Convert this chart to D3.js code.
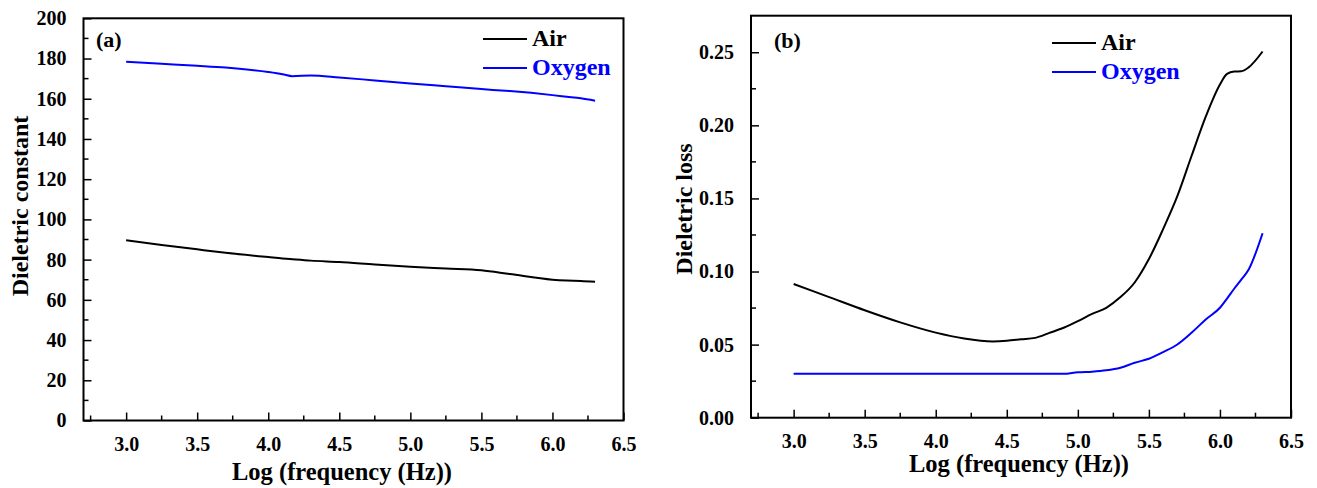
<!DOCTYPE html>
<html>
<head>
<meta charset="utf-8">
<script src="https://cdn.jsdelivr.net/npm/d3@7"></script>
<style>
  body { margin: 0; background: #fff; }
  text { font-family: "Liberation Serif", "Times New Roman", serif; font-weight: bold; }
</style>
</head>
<body>
<svg id="chart" width="1317" height="488"></svg>
<script>
// panel (a): dielectric constant
var freqA = [3.0, 3.25, 3.5, 3.7, 4.0, 4.1, 4.17, 4.3, 4.5, 4.75, 5.0, 5.25, 5.5, 5.7, 6.0, 6.1, 6.2, 6.3];
var airConst = [89.6, 87.3, 85.1, 83.4, 81.3, 80.6, 80.2, 79.5, 78.8, 77.6, 76.5, 75.6, 74.7, 72.8, 70.0, 69.6, 69.4, 69.0];
var oxyConst = [178.4, 177.4, 176.4, 175.5, 173.3, 172.2, 171.2, 171.6, 170.6, 169.1, 167.6, 166.2, 164.8, 163.8, 161.8, 161.0, 160.2, 159.0];

// panel (b): dielectric loss
var freqB = [3.0, 3.25, 3.5, 3.75, 4.0, 4.2, 4.4, 4.5, 4.6, 4.7, 4.8, 4.9, 5.0, 5.1, 5.2, 5.3, 5.4, 5.5, 5.6, 5.7, 5.8, 5.9, 6.0, 6.05, 6.1, 6.15, 6.2, 6.3];
var airLoss = [0.0915, 0.0825, 0.0735, 0.0652, 0.0582, 0.0542, 0.0522, 0.0526, 0.0536, 0.0546, 0.0580, 0.0615, 0.0660, 0.0710, 0.0752, 0.0825, 0.0925, 0.1085, 0.1290, 0.1515, 0.1790, 0.2060, 0.2280, 0.2352, 0.2368, 0.2370, 0.2395, 0.2505];
var oxyLoss = [0.030, 0.030, 0.030, 0.030, 0.030, 0.030, 0.030, 0.030, 0.030, 0.030, 0.030, 0.030, 0.0311, 0.0315, 0.0324, 0.0342, 0.0376, 0.0403, 0.0449, 0.0501, 0.0581, 0.0672, 0.0752, 0.0815, 0.0882, 0.0945, 0.1010, 0.1262];

var xTicks = [3.0, 3.5, 4.0, 4.5, 5.0, 5.5, 6.0, 6.5];
var seriesNames = ["Air", "Oxygen"];
var seriesColors = ["#000000", "#0000ff"];

var svg = d3.select("#chart");

var drawPanel = function (opt) {
  var g = svg.append("g");

  var x = d3.scaleLinear().domain([2.7, 6.5]).range([opt.left, opt.right]);
  var y = d3.scaleLinear().domain(opt.yDomain).range([opt.bottom, opt.top]);

  // minor ticks
  var xMinor = d3.range(2.75, 6.5, 0.25).filter(function (v) { return Math.abs((v * 2) % 1) > 0.01; });
  g.selectAll("line.xminor")
    .data(xMinor)
    .enter().append("line")
      .attr("x1", function (d) { return x(d); })
      .attr("x2", function (d) { return x(d); })
      .attr("y1", opt.bottom)
      .attr("y2", opt.bottom - 5)
      .attr("stroke", "#000")
      .attr("stroke-width", 1.5);

  var yMinor = opt.yTicks.slice(0, -1).map(function (v, i) { return (v + opt.yTicks[i + 1]) / 2; });
  g.selectAll("line.yminor")
    .data(yMinor)
    .enter().append("line")
      .attr("x1", opt.left)
      .attr("x2", opt.left + 5)
      .attr("y1", function (d) { return y(d); })
      .attr("y2", function (d) { return y(d); })
      .attr("stroke", "#000")
      .attr("stroke-width", 1.5);

  var xAxis = g.append("g")
    .attr("transform", "translate(0," + opt.bottom + ")")
    .call(d3.axisBottom(x).tickValues(xTicks).tickSizeInner(-8).tickSizeOuter(0).tickPadding(16)
      .tickFormat(d3.format(".1f")));
  xAxis.select(".domain").remove();
  xAxis.selectAll("line").attr("stroke-width", 1.5);
  xAxis.selectAll("text").style("font-size", "20px").attr("fill", "#000");

  var yAxis = g.append("g")
    .attr("transform", "translate(" + opt.left + ",0)")
    .call(d3.axisLeft(y).tickValues(opt.yTicks).tickSizeInner(-8).tickSizeOuter(0).tickPadding(17)
      .tickFormat(opt.yFormat));
  yAxis.select(".domain").remove();
  yAxis.selectAll("line").attr("stroke-width", 1.5);
  yAxis.selectAll("text").style("font-size", "20px").attr("fill", "#000");

  // frame
  g.append("rect")
    .attr("x", opt.left)
    .attr("y", opt.top)
    .attr("width", opt.right - opt.left)
    .attr("height", opt.bottom - opt.top)
    .attr("fill", "none")
    .attr("stroke", "#000")
    .attr("stroke-width", 2);

  var line = d3.line()
    .x(function (d) { return x(d[0]); })
    .y(function (d) { return y(d[1]); })
    .curve(d3.curveMonotoneX);

  opt.series.forEach(function (vals, i) {
    g.append("path")
      .datum(opt.freq.map(function (f, j) { return [f, vals[j]]; }))
      .attr("d", line)
      .attr("fill", "none")
      .attr("stroke", seriesColors[i])
      .attr("stroke-width", 2);
  });

  // legend
  seriesNames.forEach(function (name, i) {
    var ly = opt.legendY + i * 29;
    g.append("line")
      .attr("x1", opt.legendX)
      .attr("x2", opt.legendX + 44)
      .attr("y1", ly)
      .attr("y2", ly)
      .attr("stroke", seriesColors[i])
      .attr("stroke-width", 2);
    g.append("text")
      .attr("x", opt.legendX + 49)
      .attr("y", ly + 7)
      .style("font-size", "24px")
      .attr("fill", seriesColors[i])
      .text(name);
  });

  g.append("text")
    .attr("x", opt.tagX)
    .attr("y", opt.tagY)
    .style("font-size", "22px")
    .text(opt.tag);

  g.append("text")
    .attr("x", opt.xTitleX)
    .attr("y", opt.xTitleY)
    .attr("text-anchor", "middle")
    .style("font-size", "24.5px")
    .text("Log (frequency (Hz))");

  g.append("text")
    .attr("transform", "translate(" + opt.yTitleX + "," + opt.yTitleY + ") rotate(-90)")
    .attr("text-anchor", "middle")
    .style("font-size", "24px")
    .text(opt.yTitle);
};

drawPanel({
  left: 83.5, right: 623.5, top: 18.3, bottom: 420.5,
  yDomain: [0, 200],
  yTicks: [0, 20, 40, 60, 80, 100, 120, 140, 160, 180, 200],
  yFormat: d3.format("d"),
  freq: freqA,
  series: [airConst, oxyConst],
  legendX: 483, legendY: 39,
  tag: "(a)", tagX: 96, tagY: 47,
  xTitleX: 342, xTitleY: 480,
  yTitle: "Dieletric constant", yTitleX: 28, yTitleY: 206
});

drawPanel({
  left: 751, right: 1291, top: 15.7, bottom: 417.7,
  yDomain: [0, 0.275],
  yTicks: [0, 0.05, 0.10, 0.15, 0.20, 0.25],
  yFormat: d3.format(".2f"),
  freq: freqB,
  series: [airLoss, oxyLoss],
  legendX: 1052, legendY: 43,
  tag: "(b)", tagX: 774, tagY: 48,
  xTitleX: 1019, xTitleY: 472,
  yTitle: "Dieletric loss", yTitleX: 692, yTitleY: 209
});
</script>
</body>
</html>
